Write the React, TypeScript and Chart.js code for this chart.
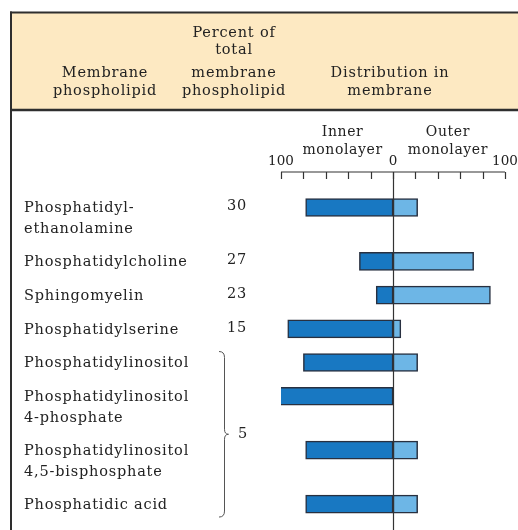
import React, { useEffect, useRef } from "react";
import { Chart, registerables } from "chart.js";

Chart.register(...registerables);

// ---- data ----
const rowLabels: string[][] = [
  ["Phosphatidyl-", "ethanolamine"],
  ["Phosphatidylcholine"],
  ["Sphingomyelin"],
  ["Phosphatidylserine"],
  ["Phosphatidylinositol"],
  ["Phosphatidylinositol", "4-phosphate"],
  ["Phosphatidylinositol", "4,5-bisphosphate"],
  ["Phosphatidic acid"],
];
const percentOfTotal: (string | null)[] = ["30", "27", "23", "15", null, null, null, null];
const groupedPercent = "5"; // shared by the last four rows
const innerMonolayer: number[] = [78, 30, 15, 94, 80, 102, 78, 78];
const outerMonolayer: number[] = [22, 72, 87, 7, 22, 0, 22, 22];
const axisTicks: number[] = [-100, -80, -60, -40, -20, 0, 20, 40, 60, 80, 100];
const axisTickLabels: number[] = [-100, 0, 100];
const headerCol1 = ["Membrane", "phospholipid"];
const headerCol2 = ["Percent of", "total", "membrane", "phospholipid"];
const headerCol3 = ["Distribution in", "membrane"];
const innerTitle = ["Inner", "monolayer"];
const outerTitle = ["Outer", "monolayer"];

// row positions derived from the number of text lines in each label
const rowPositions: number[] = (() => {
  const out: number[] = [];
  let acc = 0;
  rowLabels.forEach((l) => {
    out.push(acc);
    acc += l.length > 1 ? 1.6 : 1;
  });
  return out;
})();

const FONT = "'DejaVu Serif', serif";
const TEXT = "#222222";
const DARK = "#1878c2";
const LIGHT = "#6db6e6";
const EDGE = "#283040";
const HEADER_BG = "#fde9c2";

function setFont(ctx: any, size: number, spacing: number) {
  ctx.font = `${size}px ${FONT}`;
  try {
    ctx.letterSpacing = `${spacing}px`;
  } catch (e) {}
}

const overlay = {
  id: "overlay",
  beforeDraw(chart: any) {
    const ctx = chart.ctx;
    const W = chart.width;
    const H = chart.height;
    ctx.save();
    ctx.fillStyle = "#ffffff";
    ctx.fillRect(0, 0, W, H);
    // header band
    ctx.fillStyle = HEADER_BG;
    ctx.fillRect(11, 12, W, 98);
    ctx.strokeStyle = "#2e2e2e";
    ctx.lineWidth = 2;
    ctx.beginPath();
    ctx.moveTo(10, 12.5);
    ctx.lineTo(W, 12.5);
    ctx.stroke();
    ctx.lineWidth = 2.5;
    ctx.beginPath();
    ctx.moveTo(10, 110);
    ctx.lineTo(W, 110);
    ctx.stroke();
    ctx.lineWidth = 2;
    ctx.beginPath();
    ctx.moveTo(11, 11.5);
    ctx.lineTo(11, H);
    ctx.stroke();

    // header text
    ctx.fillStyle = TEXT;
    setFont(ctx, 14.5, 0.8);
    ctx.textAlign = "center";
    ctx.textBaseline = "middle";
    ctx.fillText(headerCol1[0], 105, 73);
    ctx.fillText(headerCol1[1], 105, 91);
    const ys2 = [33, 50, 73, 91];
    headerCol2.forEach((t, i) => ctx.fillText(t, 234, ys2[i]));
    ctx.fillText(headerCol3[0], 390, 73);
    ctx.fillText(headerCol3[1], 390, 91);
    ctx.restore();
  },
  afterDatasetsDraw(chart: any) {
    const ctx = chart.ctx;
    const xs = chart.scales.x;
    const ys = chart.scales.y;
    const top = chart.chartArea.top;
    const x0 = xs.getPixelForValue(0);
    ctx.save();
    // axis line + ticks
    ctx.strokeStyle = "#333";
    ctx.lineWidth = 1.2;
    ctx.beginPath();
    ctx.moveTo(xs.getPixelForValue(-100), top);
    ctx.lineTo(xs.getPixelForValue(100), top);
    axisTicks.forEach((v) => {
      const px = Math.round(xs.getPixelForValue(v)) + 0.5;
      ctx.moveTo(px, top);
      ctx.lineTo(px, top + 7);
    });
    ctx.stroke();
    // center line
    ctx.beginPath();
    ctx.moveTo(Math.round(x0) + 0.5, top);
    ctx.lineTo(Math.round(x0) + 0.5, chart.height);
    ctx.stroke();

    ctx.fillStyle = TEXT;
    ctx.textAlign = "center";
    ctx.textBaseline = "middle";
    setFont(ctx, 13.5, 0);
    axisTickLabels.forEach((v) => {
      ctx.fillText(String(Math.abs(v)), xs.getPixelForValue(v), top - 11);
    });
    setFont(ctx, 14, 0.6);
    const ix = xs.getPixelForValue(-45);
    const ox = xs.getPixelForValue(49);
    ctx.fillText(innerTitle[0], ix, top - 40);
    ctx.fillText(innerTitle[1], ix, top - 22);
    ctx.fillText(outerTitle[0], ox, top - 40);
    ctx.fillText(outerTitle[1], ox, top - 22);

    // row labels and percents
    ctx.textAlign = "left";
    setFont(ctx, 14.5, 0.8);
    rowLabels.forEach((lines, i) => {
      const py = ys.getPixelForValue(rowPositions[i]);
      lines.forEach((t, j) => ctx.fillText(t, 24, py + 1 + j * 21));
      const p = percentOfTotal[i];
      if (p) {
        ctx.textAlign = "center";
        ctx.fillText(p, 237, py - 1);
        ctx.textAlign = "left";
      }
    });

    // brace over last four rows
    const yTop = ys.getPixelForValue(rowPositions[4]) - 11;
    const yBot = ys.getPixelForValue(rowPositions[7]) + 13;
    const yMid = (yTop + yBot) / 2;
    const bx = 224.5;
    ctx.strokeStyle = "#555";
    ctx.lineWidth = 1;
    ctx.beginPath();
    ctx.moveTo(219, yTop);
    ctx.quadraticCurveTo(bx, yTop, bx, yTop + 6);
    ctx.lineTo(bx, yMid - 5);
    ctx.quadraticCurveTo(bx, yMid, bx + 4, yMid);
    ctx.quadraticCurveTo(bx, yMid, bx, yMid + 5);
    ctx.lineTo(bx, yBot - 6);
    ctx.quadraticCurveTo(bx, yBot, 219, yBot);
    ctx.stroke();
    ctx.textAlign = "center";
    ctx.fillText(groupedPercent, 243, yMid);
    ctx.restore();
  },
};

export default function App() {
  const ref = useRef<HTMLCanvasElement | null>(null);
  useEffect(() => {
    if (!ref.current) return;
    const chart = new Chart(ref.current, {
      type: "bar",
      data: {
        datasets: [
          {
            label: "Inner monolayer",
            data: innerMonolayer.map((v, i) => ({ x: -v, y: rowPositions[i] })),
            backgroundColor: DARK,
            borderColor: EDGE,
            borderWidth: 1.5,
            borderSkipped: false,
            barThickness: 18,
            grouped: false,
          } as any,
          {
            label: "Outer monolayer",
            data: outerMonolayer.map((v, i) => ({ x: v, y: rowPositions[i] })),
            backgroundColor: LIGHT,
            borderColor: EDGE,
            borderWidth: 1.5,
            borderSkipped: false,
            barThickness: 18,
            grouped: false,
          } as any,
        ],
      },
      options: {
        indexAxis: "y",
        responsive: false,
        animation: false,
        devicePixelRatio: 1,
        layout: { padding: { left: 281, right: 13, top: 172, bottom: 0 } },
        plugins: { legend: { display: false }, tooltip: { enabled: false } },
        scales: {
          x: { type: "linear", min: -100, max: 100, display: false, offset: false },
          y: { type: "linear", min: -1.053, max: 9.57, reverse: true, display: false, offset: false },
        },
      },
      plugins: [overlay],
    });
    return () => chart.destroy();
  }, []);
  return (
    <div style={{ position: "absolute", left: 0, top: 0, width: 518, height: 530 }}>
      <canvas ref={ref} width={518} height={530} />
    </div>
  );
}
